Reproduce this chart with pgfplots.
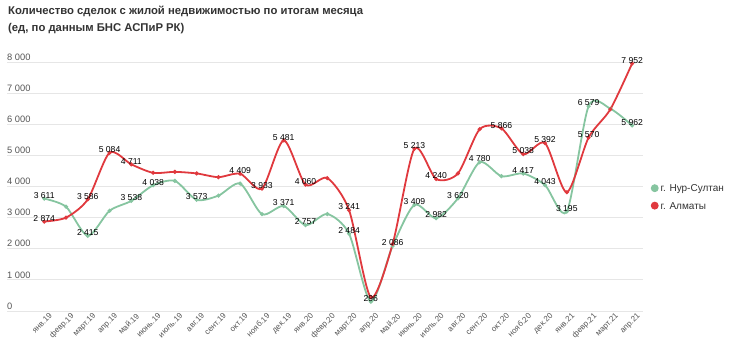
\documentclass[border=0pt]{standalone}
\usepackage{pgfplots}
\pgfplotsset{compat=1.18}
\usetikzlibrary{calc}
\usepackage{fontspec}
\setmainfont{Liberation Sans}
\definecolor{cgreen}{HTML}{86C5A0}
\definecolor{cred}{HTML}{E0393E}
\definecolor{tickgray}{HTML}{555555}
\definecolor{gridgray}{HTML}{E6E6E6}
\definecolor{titlegray}{HTML}{333333}
\begin{document}
\begin{tikzpicture}[x=1pt,y=1pt]
\begin{axis}[
  scale only axis, width=636, height=249,
  xmin=-1.71, xmax=27.5, ymin=0, ymax=8000,
  clip=false,
  axis line style={draw=none},
  ymajorgrids, grid style={gridgray, line width=0.8pt},
  ytick={0,1000,...,8000},
  major tick length=0pt,
  /pgf/number format/assume math mode=true,
  /pgf/number format/1000 sep={\ },
  yticklabel style={anchor=south west, font=\fontsize{9.3}{10}\selectfont, text=tickgray, xshift=-2pt, yshift=-0.5pt, inner sep=2pt},
  xtick={0,...,27},
  xticklabels={янв.19,февр.19,март.19,апр.19,май.19,июнь.19,июль.19,авг.19,сент.19,окт.19,нояб.19,дек.19,янв.20,февр.20,март.20,апр.20,май.20,июнь.20,июль.20,авг.20,сент.20,окт.20,нояб.20,дек.20,янв.21,февр.21,март.21,апр.21},
  xticklabel style={rotate=45, anchor=north east, font=\fontsize{8}{9}\selectfont, text=tickgray, inner sep=1pt, yshift=-3pt, xshift=3pt},
  legend style={draw=none, fill=none, at={(1.012,0.515)}, anchor=north west, font=\fontsize{10}{12}\selectfont, text=titlegray, row sep=5pt, inner sep=0pt},
  legend cell align=left,
  legend image code/.code={\fill[#1] (0pt,1pt) circle (3pt);},
  nodes near coords style={font=\fontsize{8.6}{9}\selectfont, text=black, anchor=south, inner sep=1pt, yshift=-1pt},
]
\coordinate (O) at (rel axis cs:0,0);
\addplot[cgreen, line width=1.8pt, smooth, tension=0.45, mark=*, mark size=1pt, mark options={fill=cgreen!80!black, draw=none}] coordinates {
(0,3611)(1,3350)(2,2415)(3,3220)(4,3538)(5,4038)(6,4180)(7,3573)(8,3707)(9,4094)(10,3110)(11,3371)(12,2757)(13,3115)(14,2484)(15,296)(16,2086)(17,3409)(18,2982)(19,3620)(20,4780)(21,4330)(22,4417)(23,4043)(24,3195)(25,6579)(26,6500)(27,5962)};
\addlegendentry{г. Нур-Султан}
\addplot[cred, line width=1.8pt, smooth, tension=0.45, mark=*, mark size=1pt, mark options={fill=cred!80!black, draw=none}] coordinates {
(0,2874)(1,3000)(2,3586)(3,5084)(4,4711)(5,4440)(6,4470)(7,4420)(8,4300)(9,4409)(10,3933)(11,5481)(12,4060)(13,4270)(14,3241)(15,440)(16,2150)(17,5213)(18,4240)(19,4420)(20,5840)(21,5866)(22,5038)(23,5392)(24,3816)(25,5570)(26,6480)(27,7952)};
\addlegendentry{г. Алматы}
\addplot[draw=none, mark=none, forget plot, point meta=explicit symbolic, nodes near coords] coordinates {
(0,3611)[3 611] (2,2415)[2 415] (4,3538)[3 538] (5,4038)[4 038] (7,3573)[3 573] (11,3371)[3 371] (12,2757)[2 757] (14,2484)[2 484] (15,296)[296] (16,2086)[2 086] (17,3409)[3 409] (18,2982)[2 982] (19,3620)[3 620] (20,4780)[4 780] (22,4417)[4 417] (23,4043)[4 043] (24,3195)[3 195] (25,6579)[6 579] (27,5962)[5 962]};
\addplot[draw=none, mark=none, forget plot, point meta=explicit symbolic, nodes near coords] coordinates {
(0,2874)[2 874] (2,3586)[3 586] (3,5084)[5 084] (4,4711)[4 711] (9,4409)[4 409] (10,3933)[3 933] (11,5481)[5 481] (12,4060)[4 060] (14,3241)[3 241] (17,5213)[5 213] (18,4240)[4 240] (21,5866)[5 866] (22,5038)[5 038] (23,5392)[5 392] (25,5570)[5 570] (27,7952)[7 952]};
\end{axis}
\node[anchor=north west, inner sep=0pt, font=\fontsize{11.3}{17}\selectfont\bfseries, text=titlegray, align=left] at ($(O)+(1,305)$)
  {Количество сделок с жилой недвижимостью по итогам месяца\\(ед, по данным БНС АСПиР РК)};
\pgfresetboundingbox
\path[use as bounding box] ($(O)+(-7,-41)$) rectangle ($(O)+(723,311)$);
\end{tikzpicture}
\end{document}
